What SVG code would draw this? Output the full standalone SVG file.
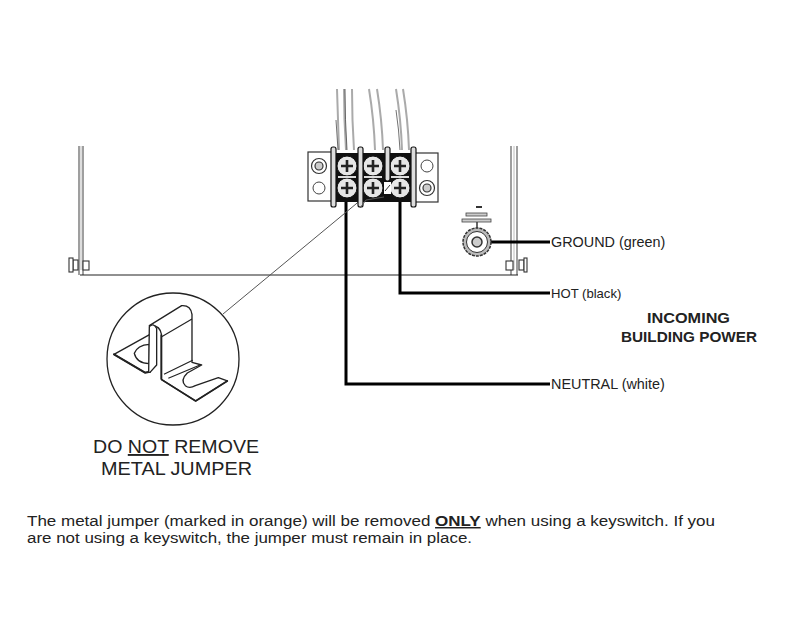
<svg xmlns="http://www.w3.org/2000/svg" width="806" height="631" viewBox="0 0 806 631">
<style>
.lab{font-family:"Liberation Sans",Arial,sans-serif;font-size:14.4px;fill:#222}
.body{font-family:"Liberation Sans",Arial,sans-serif;font-size:14.7px;fill:#222}
.head{font-family:"Liberation Sans",Arial,sans-serif;font-size:15.5px;font-weight:700;fill:#222}
.big{font-family:"Liberation Sans",Arial,sans-serif;font-size:19px;fill:#222}
.wire{fill:none;stroke:#000;stroke-width:3}
.thin{fill:none;stroke:#555;stroke-width:1}
.pl{fill:#fff;stroke:#333;stroke-width:1.2}
.j{fill:#fff;stroke:#222;stroke-width:4;stroke-linejoin:round}
.l{fill:none;stroke:#222;stroke-width:3.500}
.e{fill:none;stroke:#222;stroke-width:6;stroke-linejoin:round;stroke-linecap:round}
</style>
<rect width="806" height="631" fill="#fff"/>
<g id="enclosure">
<path d="M79 146V275M83 146V275M511 146V275M517 146V275" stroke="#888" stroke-width="1.600" fill="none"/>
<path d="M81 146V270M514 146V270" stroke="#ddd" stroke-width="2" fill="none"/>
<path d="M80 275H518" stroke="#222" stroke-width="1.200" fill="none"/>
<g fill="#fff" stroke="#333" stroke-width="1.100">
<rect x="73" y="260" width="5" height="10"/><rect x="69" y="258" width="4" height="14"/><rect x="83" y="261" width="6" height="9"/>
<rect x="506" y="261" width="7" height="9"/><rect x="519" y="260" width="5" height="10"/><rect x="524" y="258" width="3" height="14"/>
</g>
</g>
<g id="connectors">
<path class="wire" d="M346 198V384H550"/>
<path class="wire" d="M400 198V293H550"/>
<path class="wire" d="M484 242H550"/>
<path class="thin" d="M223 314L362 199"/>
</g>
<g id="supply-wires">
<path d="M337 89Q338 120 339 150M344 89Q344 120 346 150M352 89Q352 120 354 150M369 89Q374 120 375 150M377 89Q382 120 383 150M396 89Q401 120 402 150M403 89Q408 120 409 150" stroke="#aaa" stroke-width="2" fill="none"/>
<path d="M336 120Q337 135 338 150M345 89Q345 120 347 150M396 110Q399 130 400 150" stroke="#333" stroke-width=".7" fill="none"/>
</g>
<g id="terminal-block">
<rect x="333" y="153" width="83" height="49" fill="#111"/>
<rect class="pl" x="308" y="152" width="26" height="49"/>
<rect class="pl" x="415" y="153" width="23" height="49"/>
<circle cx="319" cy="166" r="7.500" fill="#fff" stroke="#333" stroke-width="1.200"/><circle cx="319" cy="166" r="4" fill="#ccc" stroke="#333" stroke-width="1.200"/>
<circle cx="319" cy="188" r="6" fill="#fff" stroke="#444"/>
<circle cx="427" cy="166" r="6" fill="#fff" stroke="#444"/>
<circle cx="427" cy="188" r="7.500" fill="#fff" stroke="#333" stroke-width="1.200"/><circle cx="427" cy="188" r="4" fill="#ccc" stroke="#333" stroke-width="1.200"/>
<g fill="#e6e6e6" stroke="#111" stroke-width="1">
<circle cx="347" cy="166" r="10"/><circle cx="373" cy="166" r="10"/><circle cx="400" cy="166" r="10"/>
<circle cx="347" cy="188" r="10"/><circle cx="373" cy="188" r="10"/><circle cx="400" cy="188" r="10"/>
</g>
<path d="M341 166H353M347 160V172M367 166H379M373 160V172M394 166H406M400 160V172M341 188H353M347 182V194M367 188H379M373 182V194M394 188H406M400 182V194" stroke="#222" stroke-width="2.600" fill="none"/>
<path d="M338 177H356M364 177H382M391 177H409" stroke="#ddd" stroke-width="2"/>
<rect x="384" y="182" width="7" height="12" fill="#fff"/>
<path d="M385 191L390 185" stroke="#333"/>
<g fill="#ddd" stroke="#111" stroke-width="1.200">
<rect x="331" y="147" width="5" height="60" rx="2"/><rect x="358" y="147" width="5" height="60" rx="2"/><rect x="385" y="147" width="5" height="34" rx="2"/><rect x="411" y="147" width="5" height="60" rx="2"/>
</g>
<path d="M360 208L366 200L384 197" fill="none" stroke="#555"/>
</g>
<g id="ground-symbol">
<path d="M476 207H482" stroke="#333" stroke-width="2"/>
<rect x="466" y="213" width="21" height="3" fill="#ccc" stroke="#444" stroke-width=".8"/>
<rect x="462" y="219" width="29" height="3" fill="#ccc" stroke="#444" stroke-width=".8"/>
<path d="M477 222V231" stroke="#333" stroke-width="1.500"/>
<circle cx="477" cy="242" r="14" fill="#bbb" stroke="#333" stroke-width="1.500" stroke-dasharray="3 1"/>
<circle cx="477" cy="242" r="10.500" fill="#fff" stroke="#333"/>
<circle cx="477" cy="242" r="5" fill="#ccc" stroke="#333" stroke-width="1.500"/>
</g>
<g id="jumper-detail">
<circle cx="173" cy="359" r="66" fill="#fff" stroke="#222" stroke-width="1.300"/>
<g transform="translate(100 285) scale(.3333)">
<path class="j" d="M42 208L150 148V260L135 263Z"/>
<path class="e" d="M42 208L135 263L150 260"/>
<path d="M148 178Q112 180 103 205Q110 235 148 236Z" fill="#fff" stroke="#222" stroke-width="4"/>
<path class="j" d="M148 122L245 62Q272 60 276 88V232L305 240L262 264Q240 285 256 302Q268 312 286 302L355 278L382 288L287 348L185 284V150Q180 118 148 122Z"/>
<path class="l" d="M185 155L276 102M192 268L278 226M205 280L300 240"/>
<path class="e" style="stroke-width:5" d="M185 284L287 348L382 288"/>
<path class="e" style="stroke-width:4" d="M183 150V282"/>
<path class="j" d="M148 125Q160 112 170 130V240L150 262H146Z"/>
</g>
</g>
<g id="labels">
<text class="lab" x="551" y="247">GROUND (green)</text>
<text class="lab" x="551" y="298" style="font-size:13.100px">HOT (black)</text>
<text class="lab" x="551" y="389">NEUTRAL (white)</text>
<text class="head" x="647" y="323" textLength="83" lengthAdjust="spacingAndGlyphs">INCOMING</text>
<text class="head" x="621" y="342" textLength="136" lengthAdjust="spacingAndGlyphs">BUILDING POWER</text>
<text class="big" x="93" y="453" textLength="166" lengthAdjust="spacingAndGlyphs">DO <tspan text-decoration="underline">NOT</tspan> REMOVE</text>
<text class="big" x="101" y="475" textLength="151" lengthAdjust="spacingAndGlyphs">METAL JUMPER</text>
<text class="body" x="27" y="526" textLength="688" lengthAdjust="spacingAndGlyphs">The metal jumper (marked in orange) will be removed <tspan font-weight="700" text-decoration="underline">ONLY</tspan> when using a keyswitch. If you</text>
<text class="body" x="27" y="543" textLength="445" lengthAdjust="spacingAndGlyphs">are not using a keyswitch, the jumper must remain in place.</text>
</g>
</svg>
